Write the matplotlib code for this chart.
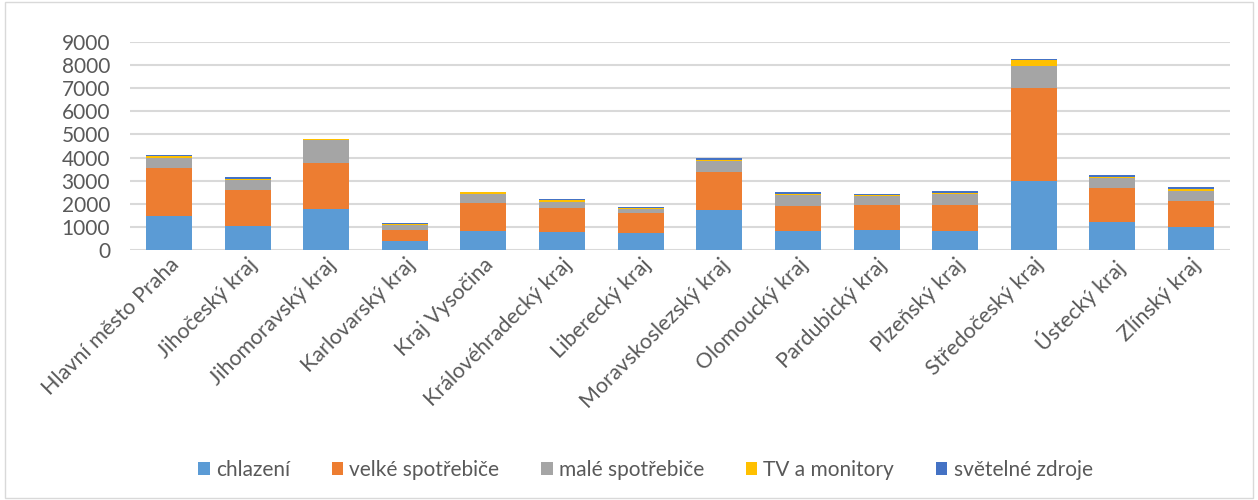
import matplotlib.pyplot as plt
import numpy as np
from matplotlib.patches import Rectangle

plt.rcParams['font.family'] = ['Lato', 'DejaVu Sans']

kraje = ["Hlavní město Praha", "Jihočeský kraj", "Jihomoravský kraj", "Karlovarský kraj",
         "Kraj Vysočina", "Královéhradecký kraj", "Liberecký kraj", "Moravskoslezský kraj",
         "Olomoucký kraj", "Pardubický kraj", "Plzeňský kraj", "Středočeský kraj",
         "Ústecký kraj", "Zlínský kraj"]

chlazeni = [1480, 1050, 1780, 400, 840, 790, 720, 1725, 840, 880, 840, 2970, 1190, 980]
velke = [2060, 1540, 1970, 470, 1210, 1040, 890, 1645, 1070, 1070, 1110, 4030, 1490, 1150]
male = [450, 430, 990, 200, 390, 260, 170, 470, 460, 370, 490, 950, 430, 430]
tv = [60, 60, 60, 45, 60, 60, 45, 55, 45, 45, 40, 270, 70, 60]
svetelne = [50, 70, 15, 50, 15, 60, 15, 85, 85, 70, 75, 55, 60, 85]

serie = [("chlazení", chlazeni, "#5B9BD5"),
         ("velké spotřebiče", velke, "#ED7D31"),
         ("malé spotřebiče", male, "#A5A5A5"),
         ("TV a monitory", tv, "#FFC000"),
         ("světelné zdroje", svetelne, "#4472C4")]

fig = plt.figure(figsize=(12.58, 5), dpi=100)
ax = fig.add_axes([0.103, 0.5, 0.875, 0.416])

x = np.arange(len(kraje))
bottom = np.zeros(len(kraje))
for name, vals, col in serie:
    ax.bar(x, vals, 0.585, bottom=bottom, color=col, label=name, zorder=3)
    bottom += np.array(vals)

ax.set_ylim(0, 9000)
ax.set_xlim(-0.5, len(kraje) - 0.5)
ax.set_yticks(range(0, 9001, 1000))
ax.yaxis.grid(True, color="#d9d9d9", linewidth=1.5, zorder=0)
for s in ax.spines.values():
    s.set_visible(False)
ax.tick_params(axis="both", length=0, colors="#595959")
ax.tick_params(axis="y", pad=14, labelsize=15)
ax.set_xticks(x)
ax.set_xticklabels(kraje, rotation=45, ha="right", rotation_mode="anchor", fontsize=15.5)

fig.legend(loc="center", bbox_to_anchor=(0.513, 0.06), ncol=5, frameon=False,
           fontsize=15, handlelength=0.55, handleheight=0.55, columnspacing=2.0,
           handletextpad=0.3, labelcolor="#595959")

fig.patches.append(Rectangle((0.004, 0.004), 0.992, 0.992, transform=fig.transFigure,
                             fill=False, edgecolor="#d9d9d9", linewidth=1))

fig.savefig("out.png", dpi=100)
